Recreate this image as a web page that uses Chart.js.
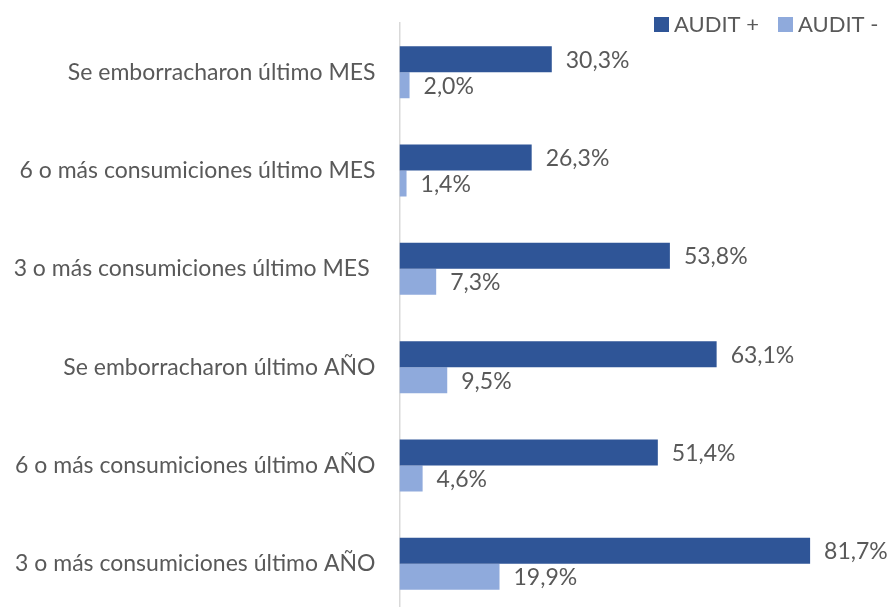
<!DOCTYPE html>
<html>
<head>
<meta charset="utf-8">
<script src="https://cdn.jsdelivr.net/npm/chart.js@4/dist/chart.umd.min.js"></script>
<style>
  html, body { margin: 0; padding: 0; background: #fff; overflow: hidden; }
  #wrap { width: 890px; height: 614px; }
</style>
</head>
<body>
<div id="wrap"><canvas id="c" width="890" height="614"></canvas></div>
<script>
// Consumo de alcohol según resultado AUDIT (porcentajes)
const categories = [
  'Se emborracharon último MES',
  '6 o más consumiciones último MES',
  '3 o más consumiciones último MES ',
  'Se emborracharon último AÑO',
  '6 o más consumiciones último AÑO',
  '3 o más consumiciones último AÑO'
];
const auditPositivo = [30.3, 26.3, 53.8, 63.1, 51.4, 81.7];
const auditNegativo = [2.0, 1.4, 7.3, 9.5, 4.6, 19.9];
const seriesNames = ['AUDIT +', 'AUDIT -'];
const seriesColors = ['#2F5597', '#8FAADC'];

const FONT = 'Lato, "Open Sans", sans-serif';
const FONT_SIZE = 23;
const TEXT = '#595959';

// Writes each bar's value (comma decimal) just past its end
const valueLabels = {
  id: 'valueLabels',
  afterDatasetsDraw(chart) {
    const ctx = chart.ctx;
    ctx.save();
    ctx.font = FONT_SIZE + 'px ' + FONT;
    ctx.fillStyle = TEXT;
    ctx.textBaseline = 'middle';
    ctx.textAlign = 'left';
    chart.data.datasets.forEach((ds, i) => {
      chart.getDatasetMeta(i).data.forEach((bar, j) => {
        const txt = ds.data[j].toFixed(1).replace('.', ',') + '%';
        ctx.fillText(txt, bar.x + 14, bar.y + 1);
      });
    });
    ctx.restore();
  }
};

// Legend in the top-right corner, overlapping the plot area
const cornerLegend = {
  id: 'cornerLegend',
  afterDraw(chart) {
    const ctx = chart.ctx;
    ctx.save();
    ctx.font = (FONT_SIZE - 1) + 'px ' + FONT;
    ctx.textBaseline = 'middle';
    ctx.textAlign = 'left';
    const boxes = [654, 778];
    chart.data.datasets.forEach((ds, i) => {
      const x = boxes[i];
      ctx.fillStyle = ds.backgroundColor;
      ctx.fillRect(x, 17, 15, 15);
      ctx.fillStyle = TEXT;
      ctx.fillText(ds.label, x + 20, 25);
    });
    ctx.restore();
  }
};

new Chart(document.getElementById('c'), {
  type: 'bar',
  data: {
    labels: categories,
    datasets: [
      { label: seriesNames[0], data: auditPositivo, backgroundColor: seriesColors[0] },
      { label: seriesNames[1], data: auditNegativo, backgroundColor: seriesColors[1] }
    ]
  },
  options: {
    indexAxis: 'y',
    responsive: false,
    animation: false,
    layout: { padding: { top: 23, bottom: 1, left: 0, right: 4 } },
    datasets: { bar: { categoryPercentage: 0.528, barPercentage: 1 } },
    scales: {
      x: {
        display: false,
        min: 0,
        max: 96.8
      },
      y: {
        grid: { display: false, drawTicks: false },
        border: { display: true, color: '#D9D9D9', width: 1.5 },
        ticks: {
          color: TEXT,
          font: { family: FONT, size: FONT_SIZE },
          padding: 24
        },
        afterFit(scale) {
          scale.width = 399.5;
          scale.paddingTop = 0;
          scale.paddingBottom = 0;
        }
      }
    },
    plugins: {
      tooltip: { enabled: false },
      legend: { display: false }
    }
  },
  plugins: [valueLabels, cornerLegend]
});
</script>
</body>
</html>
